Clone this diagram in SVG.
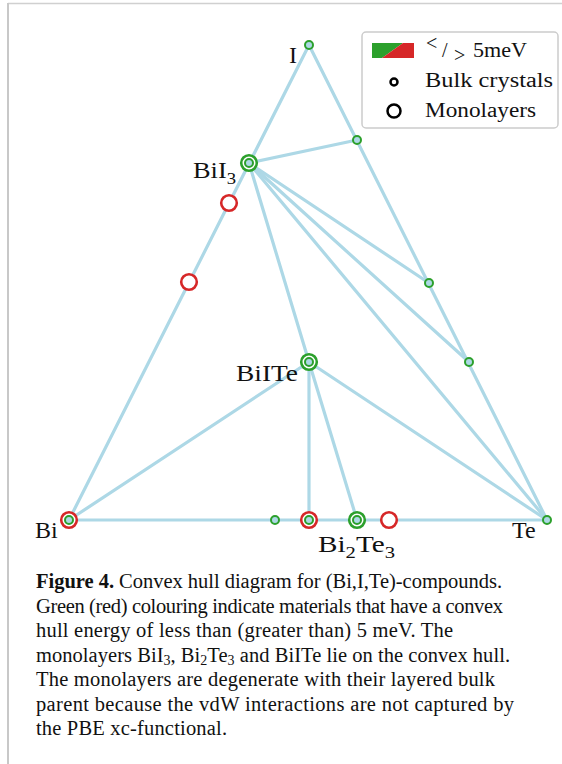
<svg xmlns="http://www.w3.org/2000/svg" width="562" height="764" viewBox="0 0 562 764">
<style>
.edge{stroke:#add8e6;stroke-width:3.2;fill:none;stroke-linecap:round}
.bulk{fill:#add8e6;stroke-width:2}
.mono{fill:#fff;stroke-width:2.6}
.g{stroke:#2ca02c}
.r{stroke:#d62728}
.lbl{font-family:"Liberation Serif","DejaVu Serif",serif;font-size:24px;fill:#111}
.leg{font-family:"Liberation Serif","DejaVu Serif",serif;font-size:20px;fill:#111}
.cap{font-family:"Liberation Serif","DejaVu Serif",serif;font-size:20.5px;fill:#111}
</style>
<rect width="562" height="764" fill="#fff"/>
<line x1="8" y1="3.5" x2="562" y2="3.5" stroke="#d0d0d0" stroke-width="1.5"/>
<line x1="8" y1="3" x2="8" y2="764" stroke="#c8c8c8" stroke-width="2"/>
<g id="connectors">
<line class="edge" x1="69" y1="520" x2="309" y2="45"/>
<line class="edge" x1="309" y1="45" x2="547" y2="520"/>
<line class="edge" x1="69" y1="520" x2="547" y2="520"/>
<line class="edge" x1="249" y1="163" x2="357" y2="140"/>
<line class="edge" x1="249" y1="163" x2="429" y2="283"/>
<line class="edge" x1="249" y1="163" x2="469" y2="362"/>
<line class="edge" x1="249" y1="163" x2="547" y2="520"/>
<line class="edge" x1="249" y1="163" x2="309" y2="362"/>
<line class="edge" x1="309" y1="362" x2="69" y2="520"/>
<line class="edge" x1="309" y1="362" x2="547" y2="520"/>
<line class="edge" x1="309" y1="362" x2="309" y2="520"/>
<line class="edge" x1="309" y1="362" x2="357" y2="520"/>
</g>
<g id="node-I"><circle class="bulk g" cx="309" cy="45" r="4"/><text class="lbl" x="289" y="63">I</text></g>
<g id="node-IT"><circle class="bulk g" cx="357" cy="140" r="4"/></g>
<g id="node-BiI3"><circle class="mono g" cx="249" cy="163" r="7.8"/><circle class="bulk g" cx="249" cy="163" r="4"/><text class="lbl" x="193" y="178" textLength="43" lengthAdjust="spacingAndGlyphs">BiI<tspan font-size="17" dy="6">3</tspan></text></g>
<g id="node-BiI2"><circle class="mono r" cx="229" cy="203" r="7.8"/></g>
<g id="node-BiI"><circle class="mono r" cx="189" cy="282" r="7.8"/></g>
<g id="node-IT2"><circle class="bulk g" cx="429" cy="283" r="4"/></g>
<g id="node-IT3"><circle class="bulk g" cx="469" cy="362" r="4"/></g>
<g id="node-BiITe"><circle class="mono g" cx="309" cy="362" r="7.8"/><circle class="bulk g" cx="309" cy="362" r="4"/><text class="lbl" x="236" y="381" textLength="62" lengthAdjust="spacingAndGlyphs">BiITe</text></g>
<g id="node-Bi"><circle class="mono r" cx="69" cy="520" r="7.8"/><circle class="bulk g" cx="69" cy="520" r="4"/><text class="lbl" x="35" y="538">Bi</text></g>
<g id="node-Bi4Te3"><circle class="bulk g" cx="275" cy="520" r="4"/></g>
<g id="node-BiTe"><circle class="mono r" cx="309" cy="520" r="7.8"/><circle class="bulk g" cx="309" cy="520" r="4"/></g>
<g id="node-Bi2Te3"><circle class="mono g" cx="357" cy="520" r="7.8"/><circle class="bulk g" cx="357" cy="520" r="4"/><text class="lbl" x="318" y="552" textLength="77" lengthAdjust="spacingAndGlyphs">Bi<tspan font-size="17" dy="6">2</tspan><tspan dy="-6">Te</tspan><tspan font-size="17" dy="6">3</tspan></text></g>
<g id="node-BiTe2"><circle class="mono r" cx="389" cy="520" r="7.8"/></g>
<g id="node-Te"><circle class="bulk g" cx="547" cy="520" r="4"/><text class="lbl" x="512" y="538">Te</text></g>
<g id="legend">
<rect x="362" y="32" width="196" height="96" rx="4" fill="#fff" stroke="#cccccc" stroke-width="1.5"/>
<polygon points="372,43 403,43 382,58 372,58" fill="#2ca02c"/>
<polygon points="403,43 414,43 414,58 382,58" fill="#d62728"/>
<text class="leg" x="426" y="50" font-size="15">&lt;</text>
<text class="leg" x="442" y="57">/</text>
<text class="leg" x="454" y="62" font-size="15">&gt;</text>
<text class="leg" x="473" y="57" textLength="54" lengthAdjust="spacingAndGlyphs">5meV</text>
<circle cx="394" cy="82" r="3.5" fill="#fff" stroke="#000" stroke-width="2.5"/>
<text class="leg" x="425" y="87" textLength="128" lengthAdjust="spacingAndGlyphs">Bulk crystals</text>
<circle cx="394" cy="111" r="6.5" fill="#fff" stroke="#000" stroke-width="2.5"/>
<text class="leg" x="425" y="117" textLength="111" lengthAdjust="spacingAndGlyphs">Monolayers</text>
</g>
<g id="caption">
<text class="cap" x="36" y="588" textLength="466" lengthAdjust="spacing"><tspan font-weight="bold">Figure 4.</tspan> Convex hull diagram for (Bi,I,Te)-compounds.</text>
<text class="cap" x="36" y="612.5" textLength="467" lengthAdjust="spacing">Green (red) colouring indicate materials that have a convex</text>
<text class="cap" x="36" y="637" textLength="417" lengthAdjust="spacing">hull energy of less than (greater than) 5 meV. The</text>
<text class="cap" x="36" y="661.5" textLength="474" lengthAdjust="spacing">monolayers BiI<tspan font-size="14" dy="3">3</tspan><tspan dy="-3">, Bi</tspan><tspan font-size="14" dy="3">2</tspan><tspan dy="-3">Te</tspan><tspan font-size="14" dy="3">3</tspan><tspan dy="-3"> and BiITe lie on the convex hull.</tspan></text>
<text class="cap" x="36" y="686" textLength="459" lengthAdjust="spacing">The monolayers are degenerate with their layered bulk</text>
<text class="cap" x="36" y="710.5" textLength="478" lengthAdjust="spacing">parent because the vdW interactions are not captured by</text>
<text class="cap" x="36" y="735" textLength="191" lengthAdjust="spacing">the PBE xc-functional.</text>
</g>
</svg>
